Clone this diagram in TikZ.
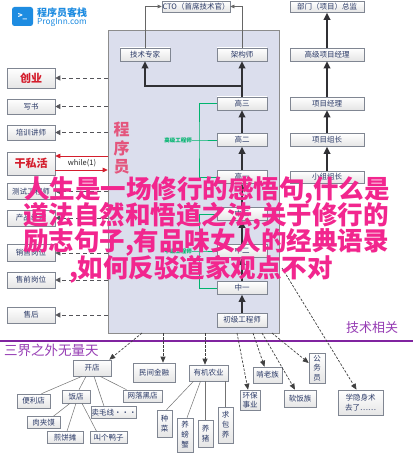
\documentclass[tikz,border=0pt]{standalone}
\usepackage{fontspec}
\setmainfont{Noto Sans CJK SC}
\usetikzlibrary{arrows.meta,calc,shadows}
\definecolor{navy}{RGB}{43,58,103}
\definecolor{bord}{RGB}{128,134,146}
\definecolor{panelc}{RGB}{219,222,237}
\definecolor{grn}{RGB}{0,180,110}
\definecolor{purp}{RGB}{128,36,160}
\definecolor{purpt}{RGB}{150,60,180}
\definecolor{pinkt}{RGB}{242,38,142}
\definecolor{redc}{RGB}{212,30,45}
\definecolor{logob}{RGB}{30,140,225}
\definecolor{cxyc}{RGB}{228,85,125}
\definecolor{thick}{RGB}{48,48,52}
\definecolor{dashc}{RGB}{85,85,90}
\tikzset{
  bx/.style={draw=bord, line width=0.6pt, top color=white, bottom color=black!10,
    inner sep=0pt, font=\fontsize{7.5}{9}\selectfont, text=navy, align=center,
    drop shadow={shadow xshift=0.8pt,shadow yshift=-0.8pt,fill=black,opacity=0.22}},
  wh/.style 2 args={minimum width=#1pt, minimum height=#2pt},
  thickarr/.style={draw=thick, line width=1.8pt, -{Triangle[length=7pt,width=6.5pt]}},
  thinarr/.style={draw=black!60, line width=0.6pt, -{Triangle[length=4pt,width=3.5pt]}},
  leftarr/.style={draw=dashc, line width=0.7pt, dash pattern=on 4pt off 3pt, -{Triangle[length=5pt,width=5pt]}},
  botarr/.style={draw=black!75, line width=0.7pt, dash pattern=on 2.5pt off 1.5pt, -{Triangle[length=6pt,width=5pt]}},
  redarr/.style={draw=redc, line width=0.9pt, -{Triangle[length=5pt,width=4.5pt]}},
  grnline/.style={draw=grn, line width=0.9pt},
  tree/.style={draw=black!55, line width=0.5pt},
  pinktxt/.style={text=pinkt, inner sep=0pt, font=\fontsize{25.5}{27}\bfseries\selectfont},
}
\begin{document}
\begin{tikzpicture}[x=1pt,y=-1pt]
\useasboundingbox[fill=white] (0,0) rectangle (415,454);

% logo
\node[fill=logob, rounded corners=2.5pt, minimum width=21pt, minimum height=19pt, inner sep=0pt,
  text=white, font=\fontsize{8}{9}\bfseries\selectfont] (logo) at (22.5,16.5) {>\_};
\node[anchor=west, inner sep=0pt, text=logob, font=\fontsize{10}{11}\bfseries\selectfont] (lname) at (37,12.5) {程序员客栈};
\node[anchor=west, inner sep=0pt, text=logob, font=\fontsize{8.3}{9}\selectfont] (lurl) at (37,22.5) {ProgInn.com};

% panel
\node[draw=black!45, fill=panelc, line width=0.6pt, minimum width=171pt, minimum height=303pt, inner sep=0pt] (panel) at (193.5,181.5) {};

% top boxes
\node[bx, wh={68}{11}] (cto) at (196,6.5) {CTO（首席技术官）};
\node[bx, wh={74}{11}] (zongjian) at (327,7) {部门（项目）总监};
\node[bx, wh={50}{13}] (jszj) at (145,54.5) {技术专家};
\node[bx, wh={50}{13}] (jgs) at (242,54.5) {架构师};

% engineer ladder
\node[bx, wh={50}{13}] (gao3) at (242,103.5) {高三};
\node[bx, wh={50}{13}] (gao2) at (242,140) {高二};
\node[bx, wh={50}{13}] (gao1) at (242,177) {高一};
\node[bx, wh={50}{13}] (zh3) at (242,214) {中三};
\node[bx, wh={50}{13}] (zh2) at (242,251) {中二};
\node[bx, wh={50}{13}] (zh1) at (242,288) {中一};
\node[bx, wh={50}{14}] (chuji) at (242,320) {初级工程师};

% project ladder
\node[bx, wh={74}{13}] (gjxm) at (327,54.5) {高级项目经理};
\node[bx, wh={74}{13}] (xmjl) at (327,103.5) {项目经理};
\node[bx, wh={74}{13}] (xmzz) at (327,140) {项目组长};
\node[bx, wh={74}{12}] (xzzz) at (327,177) {小组组长};

% arrows top
\draw[thinarr] (jszj.north) |- (cto.west);
\draw[thinarr] (jgs.north) |- (cto.east);
\coordinate (jn) at (242,86);
\draw[thickarr] (gao3.north) -- (jgs.south);
\draw[thickarr] (jn) -| (jszj.south);
\draw[thickarr] (gao2.north) -- (gao3.south);
\draw[thickarr] (gao1.north) -- (gao2.south);
\draw[thickarr] (zh3.north) -- (gao1.south);
\draw[thickarr] (zh2.north) -- (zh3.south);
\draw[thickarr] (zh1.north) -- (zh2.south);
\draw[thickarr] (chuji.north) -- (zh1.south);
\draw[thickarr] (gjxm.north) -- (zongjian.south);
\draw[thickarr] (xmjl.north) -- (gjxm.south);
\draw[thickarr] (xmzz.north) -- (xmjl.south);
\draw[thickarr] (xzzz.north) -- (xmzz.south);

% green brackets
\node[text=grn, inner sep=0.5pt, font=\fontsize{5.5}{6}\bfseries\selectfont] (gaoL) at (178,140) {高级工程师};
\coordinate (gb) at (199,140);
\draw[grnline] (gao3.west) -| (gb) |- (gao1.west);
\draw[grnline] (gaoL.east) -- (gb) -- (gao2.west);
\node[text=grn, inner sep=0.5pt, font=\fontsize{5.5}{6}\bfseries\selectfont] (zhL) at (178,251) {中级工程师};
\coordinate (mb) at (199,251);
\draw[grnline] (zh3.west) -| (mb) |- (zh1.west);
\draw[grnline] (zhL.east) -- (mb) -- (zh2.west);

% vertical label
\node[text=cxyc, inner sep=0pt, align=center, font=\fontsize{16}{18.5}\bfseries\selectfont] (cxy) at (121.5,148.5) {程\\序\\员};

% left column
\node[bx, wh={48}{20}, text=redc, font=\fontsize{11}{12}\bfseries\selectfont] (chuangye) at (31,78) {创业};
\node[bx, wh={48}{15}] (xieshu) at (31,106.5) {写书};
\node[bx, wh={48}{15}] (peixun) at (31,132.5) {培训讲师};
\node[bx, wh={48}{23}, text=redc, font=\fontsize{11}{12}\bfseries\selectfont] (gansi) at (31,163.5) {干私活};
\node[bx, wh={48}{16}] (ceshi) at (31,191.5) {测试工程师};
\node[bx, wh={48}{16}] (chanpin) at (31,218) {产品经理};
\node[bx, wh={48}{17}] (xiaoshou) at (31,253) {销售岗位};
\node[bx, wh={48}{16}] (shouqian) at (31,280) {售前岗位};
\node[bx, wh={48}{16}] (shouhou) at (31,315) {售后};

\foreach \n in {chuangye,xieshu,peixun,ceshi,chanpin,xiaoshou,shouqian,shouhou}
  \draw[leftarr] (panel.west |- \n.east) -- (\n.east);
\draw[redarr] ($(panel.west |- gansi.east)+(0,-7.5)$) -- ($(gansi.east)+(0,-7.5)$);
\draw[redarr] ($(gansi.east)+(0,6.5)$) -- ($(panel.west |- gansi.east)+(0,6.5)$);
\node[inner sep=0pt, text=black!85, font=\fontsize{7.5}{8}\selectfont] (while) at (82,163.5) {while(1)};

% purple divider
\coordinate (pl) at (0,341);
\coordinate (pr) at (413,341);
\draw[purp, line width=2pt] (pl) -- (pr);
\node[anchor=west, inner sep=0pt, text=purpt, font=\fontsize{13.5}{14}\selectfont] (sanjie) at (4,350.5) {三界之外无量天};
\node[anchor=west, inner sep=0pt, text=purpt, font=\fontsize{13}{14}\selectfont] (jishu) at (346,328) {技术相关};

% bottom nodes
\node[bx, wh={38}{16}] (kaidian) at (92,368) {开店};
\node[bx, wh={42}{19}] (minjian) at (154,372.5) {民间金融};
\node[bx, wh={39}{16}] (youji) at (208.5,373) {有机农业};
\node[bx, wh={20}{20}, font=\fontsize{7.5}{8.5}\selectfont] (huanbao) at (250,400) {环保\\事业};
\node[bx, wh={29}{16}] (kenlao) at (267.5,375) {啃老族};
\node[bx, wh={32}{17}] (ruanfan) at (300,398.5) {软饭族};
\node[bx, wh={16}{30}, font=\fontsize{7.5}{9.5}\selectfont] (gongwu) at (317,368) {公\\务\\员};
\node[bx, wh={45}{25}, font=\fontsize{7.5}{10}\selectfont] (xueyin) at (360.5,402.5) {学隐身术\\去了……};

\coordinate (b1) at (142,333);
\coordinate (b2) at (163,333);
\coordinate (b3) at (205,333);
\coordinate (b4) at (237,333);
\coordinate (b5) at (253,333);
\coordinate (b6) at (262,333);
\coordinate (b7) at (272,333);
\coordinate (b8) at (282,268);
\draw[botarr] (b1) -- ($(kaidian.north east)+(-2,0)$);
\draw[botarr] (b2) -- (b2 |- minjian.north);
\draw[botarr] (b3) -- (b3 |- youji.north);
\draw[botarr] (b4) -- ($(huanbao.north)+(-2,0)$);
\draw[botarr] (b5) -- ($(kenlao.north)+(-3,0)$);
\draw[botarr] (b6) -- ($(ruanfan.north)+(-5,0)$);
\draw[botarr] (b7) -- ($(gongwu.west)+(0,-5)$);
\draw[botarr] (b8) -- ($(xueyin.north)+(-4,0)$);

% kaidian subtree
\node[bx, wh={33}{14}] (bianli) at (33.5,401) {便利店};
\node[bx, wh={28}{13}] (fandian) at (76,396.5) {饭店};
\node[bx, wh={38}{12}] (maomao) at (114,412.5) {卖毛线···};
\node[bx, wh={39}{12}] (wangluo) at (142.5,396) {网落黑店};
\node[bx, wh={33}{12}] (roujia) at (43.5,422.5) {肉夹馍};
\node[bx, wh={36}{12}] (jianbing) at (65,437.5) {煎饼摊};
\node[bx, wh={37}{12}] (jiaoge) at (108.5,437.5) {叫个鸭子};
\draw[tree] ($(kaidian.south)+(-10,0)$) -- ($(bianli.north)+(8,0)$);
\draw[tree] ($(kaidian.south)+(-6,0)$) -- ($(fandian.north)+(3,0)$);
\draw[tree] ($(kaidian.south)+(2,0)$) -- ($(maomao.north)+(-10,0)$);
\draw[tree] ($(kaidian.south)+(8,0)$) -- ($(wangluo.north)+(-16,0)$);
\draw[tree] ($(fandian.south)+(-6,0)$) -- ($(roujia.north)+(10,0)$);
\draw[tree] ($(fandian.south)+(0,0)$) -- ($(jianbing.north)+(2,0)$);
\draw[tree] ($(fandian.south)+(6,0)$) -- ($(jiaoge.north)+(-12,0)$);

% youji subtree
\node[bx, wh={15}{27}, font=\fontsize{7.5}{10}\selectfont] (zhongcai) at (164.5,423.5) {种\\菜};
\node[bx, wh={16}{34}, font=\fontsize{7.5}{10}\selectfont] (yangpx) at (185,435) {养\\螃\\蟹};
\node[bx, wh={15}{27}, font=\fontsize{7.5}{10}\selectfont] (yangzhu) at (205.5,433.5) {养\\猪};
\node[bx, wh={15}{36}, font=\fontsize{7.5}{10}\selectfont] (qiubao) at (225.5,425) {求\\包\\养};
\draw[tree] ($(youji.south)+(-15,0)$) -- ($(zhongcai.north)+(2,0)$);
\draw[tree] ($(youji.south)+(-8,0)$) -- ($(yangpx.north)+(2,0)$);
\draw[tree] (youji.south -| yangzhu.north) -- (yangzhu.north);
\draw[tree] (youji.south -| qiubao.north) -- (qiubao.north);

% overlay text
\node[pinktxt] (t1) at (207,190.5) {人生是一场修行的感悟句,什么是};
\node[pinktxt] (t2) at (206,216.5) {道法自然和悟道之法,关于修行的};
\node[pinktxt] (t3) at (206,242.5) {励志句子,有品味女人的经典语录};
\node[pinktxt] (t4) at (201,269) {,如何反驳道家观点不对};
\end{tikzpicture}
\end{document}
